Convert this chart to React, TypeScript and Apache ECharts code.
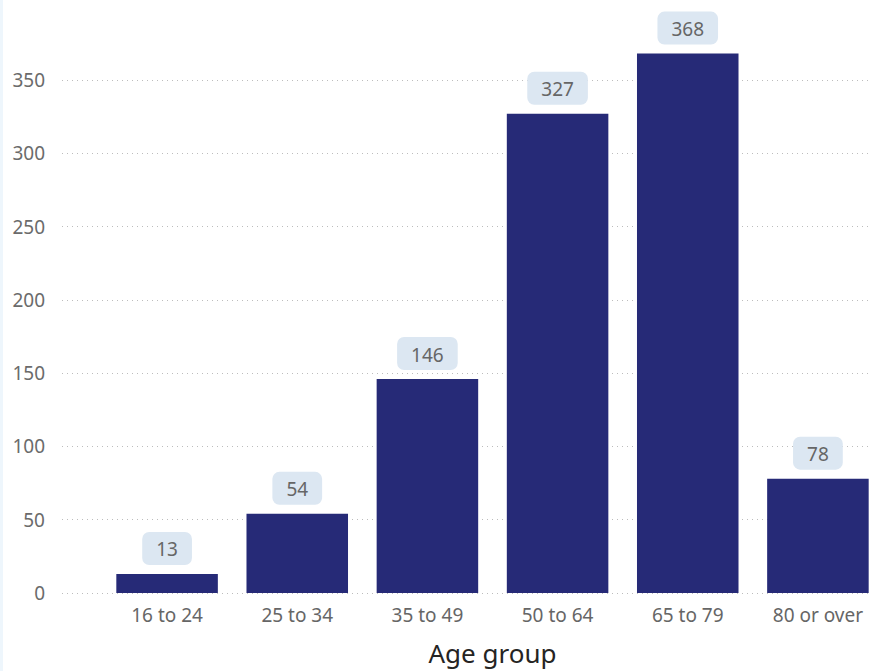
import React, { useEffect, useRef } from "react";
import * as echarts from "echarts";

const categories = ["16 to 24", "25 to 34", "35 to 49", "50 to 64", "65 to 79", "80 or over"];
const counts = [13, 54, 146, 327, 368, 78];
const yTicks = { min: 0, max: 350, interval: 50 };
const xTitle = "Age group";

export default function App() {
  const ref = useRef<HTMLDivElement>(null);
  useEffect(() => {
    document.body.style.margin = "0";
    const chart = echarts.init(ref.current!, undefined, { renderer: "svg" });
    const font = "Noto Sans";
    chart.setOption({
      animation: false,
      backgroundColor: "#ffffff",
      grid: [
        { left: 62, right: 30, top: 80, bottom: 78 },
        { left: 102, width: 781, top: 80, bottom: 78 },
      ],
      xAxis: [
        { type: "category", gridIndex: 0, data: categories, show: false },
        {
          type: "category",
          gridIndex: 1,
          data: categories,
          axisLine: { show: false },
          axisTick: { show: false },
          axisLabel: { color: "#666666", fontSize: 19, fontFamily: font, margin: 12 },
          name: xTitle,
          nameLocation: "middle",
          nameGap: 47,
          nameTextStyle: { color: "#252423", fontSize: 26, fontFamily: font },
        },
      ],
      yAxis: [
        {
          type: "value",
          gridIndex: 0,
          min: yTicks.min,
          max: yTicks.max,
          interval: yTicks.interval,
          axisLine: { show: false },
          axisTick: { show: false },
          axisLabel: { color: "#6b6b6b", fontSize: 19, fontFamily: font, margin: 17 },
          splitLine: { lineStyle: { type: [1, 4], color: "#bdbdbd", width: 1 } },
        },
        {
          type: "value",
          gridIndex: 1,
          min: yTicks.min,
          max: yTicks.max,
          interval: yTicks.interval,
          show: false,
          splitLine: { show: false },
        },
      ],
      series: [
        {
          type: "bar",
          xAxisIndex: 1,
          yAxisIndex: 1,
          data: counts,
          clip: false,
          barCategoryGap: "22%",
          itemStyle: { color: "#262A77" },
          label: {
            show: true,
            position: "top",
            distance: 9,
            color: "#666666",
            fontSize: 19,
            fontFamily: font,
            backgroundColor: "#DCE7F2",
            borderRadius: 7,
            padding: [8, 14, 6, 14],
          },
        },
      ],
    });
    return () => chart.dispose();
  }, []);
  return (
    <div style={{ position: "absolute", left: 0, top: 0, width: 870, height: 671, overflow: "hidden", background: "#fff" }}>
      <div ref={ref} style={{ position: "absolute", left: 0, top: 0, width: 900, height: 671 }} />
      <div style={{ position: "absolute", left: 0, top: 0, width: 3, height: 671, background: "#eef6fc" }} />
    </div>
  );
}
